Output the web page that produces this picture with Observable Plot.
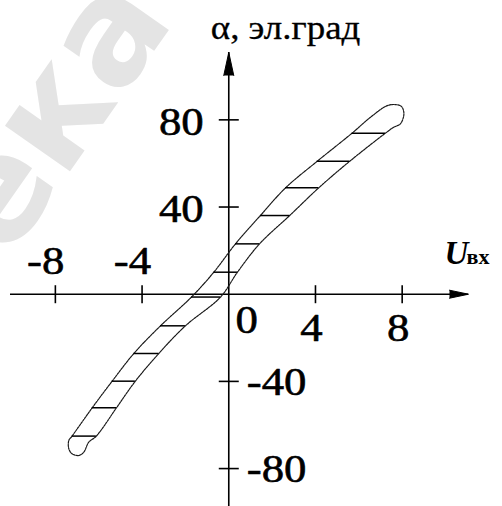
<!DOCTYPE html>
<html>
<head>
<meta charset="utf-8">
<script src="https://cdn.jsdelivr.net/npm/d3@7"></script>
<script src="https://cdn.jsdelivr.net/npm/@observablehq/plot@0.6"></script>
<style>
  body { margin: 0; background: #fff; }
</style>
</head>
<body>
<div id="chart"></div>
<script>
// Hatch levels, α (el. degrees), and where each hatch meets the two branches (U_вх, V)
const hatchAlpha   = [-65.1, -52.1, -39.9, -27.2, -14.5, -1.3, 10.1, 23.1, 36.1, 48.8, 61.0, 73.9];
const leftBranchU  = [-7.23, -6.30, -5.38, -4.38, -3.15, -1.72, -0.69, 0.31, 1.46, 2.62, 4.08, 5.69];
const rightBranchU = [-6.11, -5.18, -4.31, -3.23, -2.00, -0.38, 0.40, 1.42, 2.81, 4.15, 5.58, 7.23];

// Rounded ends of the band
const topCapU       = [6.54, 7.31, 7.69, 7.97, 8.08, 7.92, 7.61];
const topCapAlpha   = [81.2, 86.5, 87.0, 86.1, 82.8, 78.2, 76.6];
const bottomCapU     = [-6.46, -6.69, -6.92, -7.23, -7.38, -7.38];
const bottomCapAlpha = [-67.9, -72.5, -74.0, -73.2, -70.9, -67.1];

// Axes
const xDomain = [-10.07, 11.06];
const yDomain = [-97.4, 110.9];
const xTicksNeg = [-8, -4];
const xTicksPos = [4, 8];
const yTicksNeg = [-40, -80];
const yTicksPos = [40, 80];
const zeroLabel = "0";
const yTitle = "α, эл.град";
const xTitle = "U";
const xTitleSub = "вх";
const watermark = "Библиотека";

// Closed outline: left branch upward, top end, right branch downward, bottom end
const outline = [
  ...leftBranchU.map((u, i) => ({u, a: hatchAlpha[i]})),
  ...topCapU.map((u, i) => ({u, a: topCapAlpha[i]})),
  ...rightBranchU.map((u, i) => ({u, a: hatchAlpha[i]})).reverse(),
  ...bottomCapU.map((u, i) => ({u, a: bottomCapAlpha[i]}))
];
const hatches = hatchAlpha.map((a, i) => ({a, u1: leftBranchU[i], u2: rightBranchU[i]}));

// Short tick strokes drawn as dot symbols
const vbar = {draw(ctx, size) { const r = Math.sqrt(size / Math.PI); ctx.moveTo(0, -r); ctx.lineTo(0, r); }};
const hbar = {draw(ctx, size) { const r = Math.sqrt(size / Math.PI); ctx.moveTo(-r, 0); ctx.lineTo(r, 0); }};

const label = {fontSize: 40, fill: "black", stroke: "black", strokeWidth: 0.6, ariaDescription: "tick label"};
const str = d => String(d);

const chart = Plot.plot({
  width: 502,
  height: 506,
  marginLeft: 10,
  marginRight: 34,
  marginTop: 52,
  marginBottom: 0,
  x: {domain: xDomain, axis: null},
  y: {domain: yDomain, axis: null},
  style: {fontFamily: "'Liberation Serif', 'Times New Roman', serif", background: "white", overflow: "hidden"},
  marks: [
    Plot.text([watermark], {frameAnchor: "top-left", dx: 165, dy: -32, rotate: -55, textAnchor: "end",
      lineAnchor: "bottom", fontSize: 145, fontWeight: "bold", fontFamily: "DejaVu Sans", fill: "#e4e4e4"}),

    // axes with arrowheads
    Plot.ruleY([0], {stroke: "black", strokeWidth: 1.6}),
    Plot.ruleX([0], {stroke: "black", strokeWidth: 1.6}),
    Plot.vector([{x: xDomain[1], y: 0}], {x: "x", y: "y", rotate: 90, length: 19, anchor: "end",
      shape: "spike", r: 4, fill: "black", stroke: "black", strokeWidth: 1}),
    Plot.vector([{x: 0, y: yDomain[1]}], {x: "x", y: "y", rotate: 0, length: 23, anchor: "end",
      shape: "spike", r: 5, fill: "black", stroke: "black", strokeWidth: 1}),
    Plot.dot([...xTicksNeg, ...xTicksPos], {x: d => d, y: () => 0, symbol: vbar, r: 9,
      fill: "none", stroke: "black", strokeWidth: 1.6}),
    Plot.dot([...yTicksNeg, ...yTicksPos], {x: () => 0, y: d => d, symbol: hbar, r: 10,
      fill: "none", stroke: "black", strokeWidth: 1.6}),

    // hysteresis band
    Plot.line(outline, {x: "u", y: "a", curve: "catmull-rom-closed", stroke: "#1a1a1a",
      strokeWidth: 1.2, strokeDasharray: "2,1"}),
    Plot.ruleY(hatches, {y: "a", x1: "u1", x2: "u2", stroke: "black", strokeWidth: 1.5}),

    // tick labels
    Plot.text(yTicksPos, {...label, x: () => 0, y: d => d, text: str, textAnchor: "end", dx: -25, dy: 2, lineAnchor: "middle"}),
    Plot.text(yTicksNeg, {...label, x: () => 0, y: d => d, text: str, textAnchor: "start", dx: 18, dy: 1, lineAnchor: "middle"}),
    Plot.text(xTicksPos, {...label, x: d => d, y: () => 0, text: str, textAnchor: "middle", dx: -4, dy: 34, lineAnchor: "middle"}),
    Plot.text(xTicksNeg, {...label, x: d => d, y: () => 0, text: str, textAnchor: "end", dx: 9, dy: -33, lineAnchor: "middle"}),
    Plot.text([zeroLabel], {...label, x: () => 0, y: () => 0, textAnchor: "middle", dx: 18, dy: 26, lineAnchor: "middle"}),

    // axis titles
    Plot.text([yTitle], {x: () => 0, frameAnchor: "top", textAnchor: "start", dx: -18, dy: -14,
      lineAnchor: "bottom", fontSize: 33, fill: "black", stroke: "black", strokeWidth: 0.3, ariaDescription: "axis title"}),
    Plot.text([xTitle], {y: () => 0, frameAnchor: "right", textAnchor: "start", dx: -24, dy: -30,
      lineAnchor: "bottom", fontSize: 33, fontStyle: "italic", fontWeight: "bold", fill: "black"}),
    Plot.text([xTitleSub], {y: () => 0, frameAnchor: "right", textAnchor: "start", dx: -2, dy: -30,
      lineAnchor: "bottom", fontSize: 22, fontWeight: "bold", fill: "black"})
  ]
});

document.getElementById("chart").appendChild(chart);

// Serif labels are set slightly wide
const stretch = 1.12;
chart.querySelectorAll('g[aria-description="tick label"] text, g[aria-description="axis title"] text').forEach(t => {
  const w = t.getComputedTextLength();
  t.setAttribute("textLength", (w * stretch).toFixed(1));
  t.setAttribute("lengthAdjust", "spacingAndGlyphs");
});
</script>
</body>
</html>
